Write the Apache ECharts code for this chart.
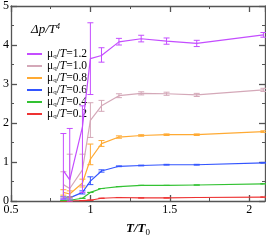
<!DOCTYPE html>
<html><head><meta charset="utf-8">
<script src="https://cdn.jsdelivr.net/npm/echarts@6/dist/echarts.min.js"></script>
<style>html,body{margin:0;padding:0;background:#fff}#c{width:266px;height:242px}</style>
</head><body><div id="c"></div>
<script>
const tValues = [0.83, 0.87, 0.95, 1.0, 1.07, 1.18, 1.32, 1.48, 1.67, 2.09];
const xTicks = [0.5, 1, 1.5, 2];
const yTicks = [0, 1, 2, 3, 4, 5];
const muLabels = ['1.2', '1.0', '0.8', '0.6', '0.4', '0.2'];
const p12 = [0.78, 0.54, 1.9, 3.65, 3.73, 4.08, 4.16, 4.10, 4.04, 4.26];
const p12lo = [0.05, 0.0, 0.22, 2.73, 3.56, 4.00, 4.08, 4.02, 3.96, 4.20];
const p12hi = [1.73, 1.86, 2.44, 4.57, 3.93, 4.17, 4.25, 4.18, 4.12, 4.32];
const p10 = [0.42, 0.32, 0.80, 2.07, 2.44, 2.70, 2.76, 2.75, 2.72, 2.85];
const p10lo = [0.10, 0.05, 0.40, 1.63, 2.30, 2.65, 2.72, 2.71, 2.68, 2.81];
const p10hi = [0.75, 1.20, 1.20, 2.52, 2.58, 2.75, 2.80, 2.79, 2.76, 2.89];
const p08 = [0.22, 0.18, 0.46, 1.07, 1.47, 1.64, 1.68, 1.70, 1.70, 1.78];
const p08lo = [0.15, 0.10, 0.36, 0.93, 1.40, 1.61, 1.66, 1.68, 1.68, 1.76];
const p08hi = [0.29, 0.26, 0.56, 1.46, 1.55, 1.67, 1.70, 1.72, 1.72, 1.80];
const p06 = [0.08, 0.08, 0.22, 0.51, 0.77, 0.89, 0.91, 0.93, 0.93, 0.98];
const p06lo = [0.05, 0.05, 0.18, 0.42, 0.74, 0.88, 0.90, 0.92, 0.92, 0.97];
const p06hi = [0.11, 0.11, 0.26, 0.62, 0.80, 0.90, 0.92, 0.94, 0.94, 0.99];
const p04 = [0.01, 0.02, 0.07, 0.22, 0.32, 0.37, 0.40, 0.40, 0.41, 0.44];
const p02 = [0.0, 0.0, 0.01, 0.02, 0.07, 0.09, 0.08, 0.08, 0.09, 0.10];

const colors = ['#c44dff', '#d4a8b8', '#ffaa33', '#3355ff', '#33c233', '#ee3333'];
const vals = [p12, p10, p08, p06, p04, p02];
const los = [p12lo, p10lo, p08lo, p06lo, p04, p02];
const his = [p12hi, p10hi, p08hi, p06hi, p04, p02];

const serif = '"Liberation Serif","DejaVu Serif",serif';
const names = muLabels.map(m => 'mu' + m);
const series = [];
vals.forEach((v, k) => {
  series.push({
    name: names[k], type: 'line', showSymbol: false, symbol: 'none',
    data: tValues.map((t, i) => [t, v[i]]),
    lineStyle: {color: colors[k], width: 1.2}, itemStyle: {color: colors[k]},
    z: 10 - k, animation: false
  });
  series.push({
    type: 'custom', z: 10 - k, animation: false,
    data: tValues.map((t, i) => [t, los[k][i], his[k][i]]),
    renderItem: (params, api) => {
      const a = api.coord([api.value(0), api.value(1)]);
      const b = api.coord([api.value(0), api.value(2)]);
      const w = 3;
      const st = {stroke: colors[k], lineWidth: 1};
      return {type: 'group', children: [
        {type: 'line', shape: {x1: a[0], y1: a[1], x2: b[0], y2: b[1]}, style: st},
        {type: 'line', shape: {x1: a[0]-w, y1: a[1], x2: a[0]+w, y2: a[1]}, style: st},
        {type: 'line', shape: {x1: b[0]-w, y1: b[1], x2: b[0]+w, y2: b[1]}, style: st}
      ]};
    }
  });
});

const axisCol = '#555';
const baseAxis = {
  type: 'value', axisLine: {show: true, onZero: false, lineStyle: {color: axisCol, width: 1.3}},
  axisTick: {show: true, inside: true, length: 6, lineStyle: {color: axisCol, width: 1.3}},
  minorTick: {show: true, splitNumber: 2, length: 3, lineStyle: {color: axisCol, width: 1}},
  splitLine: {show: false}
};
const chart = echarts.init(document.getElementById('c'), null, {renderer: 'canvas'});
chart.setOption({
  animation: false,
  grid: {left: 8, right: 1, top: 5, bottom: 32},
  title: {
    text: '{i|Δp/T}{sup|4}', left: 26, top: 18,
    textStyle: {fontWeight: 'normal', rich: {
      i: {fontFamily: serif, fontStyle: 'italic', fontWeight: 'normal', fontSize: 13, color: '#000'},
      sup: {fontFamily: serif, fontStyle: 'italic', fontWeight: 'normal', fontSize: 8, color: '#000', verticalAlign: 'top', padding: [0,0,6,0]}
    }}
  },
  legend: {
    orient: 'vertical', left: 21, top: 43, itemWidth: 15, itemHeight: 2, itemGap: 0,
    data: names,
    formatter: n => '{t|μ}{s|q}{t|/}{i|T}{t|=' + n.slice(2) + '}',
    textStyle: {lineHeight: 11.8, rich: {
      t: {fontFamily: serif, fontSize: 11.5, color: '#000'},
      i: {fontFamily: serif, fontSize: 11.5, fontStyle: 'italic', color: '#000'},
      s: {fontFamily: serif, fontSize: 7, color: '#000', verticalAlign: 'bottom', padding: [5,0,0,0]}
    }}
  },
  xAxis: [
    Object.assign({}, baseAxis, {
      min: xTicks[0], max: 2.1, interval: 0.5, position: 'bottom',
      axisLabel: {show: true, fontFamily: serif, fontSize: 12, color: '#000', margin: 3, showMaxLabel: false,
        formatter: v => (xTicks.includes(+v.toFixed(2)) ? String(v) : '')},
      name: '{i|T/T}{s|0}', nameLocation: 'middle', nameGap: 20,
      nameTextStyle: {rich: {
        i: {fontFamily: serif, fontSize: 13, fontStyle: 'italic', fontWeight: 'bold', color: '#000'},
        s: {fontFamily: serif, fontSize: 9, color: '#000', verticalAlign: 'bottom', padding: [7,0,0,0]}
      }}
    }),
    Object.assign({}, baseAxis, {min: xTicks[0], max: 2.1, interval: 0.5, position: 'top', axisLabel: {show: false}})
  ],
  yAxis: [
    Object.assign({}, baseAxis, {min: yTicks[0], max: yTicks[yTicks.length-1], interval: 1, position: 'left',
      axisLabel: {show: true, fontFamily: serif, fontSize: 12, color: '#000', margin: 2}}),
    Object.assign({}, baseAxis, {min: yTicks[0], max: yTicks[yTicks.length-1], interval: 1, position: 'right', axisLabel: {show: false}})
  ],
  series: series
});
</script></body></html>
